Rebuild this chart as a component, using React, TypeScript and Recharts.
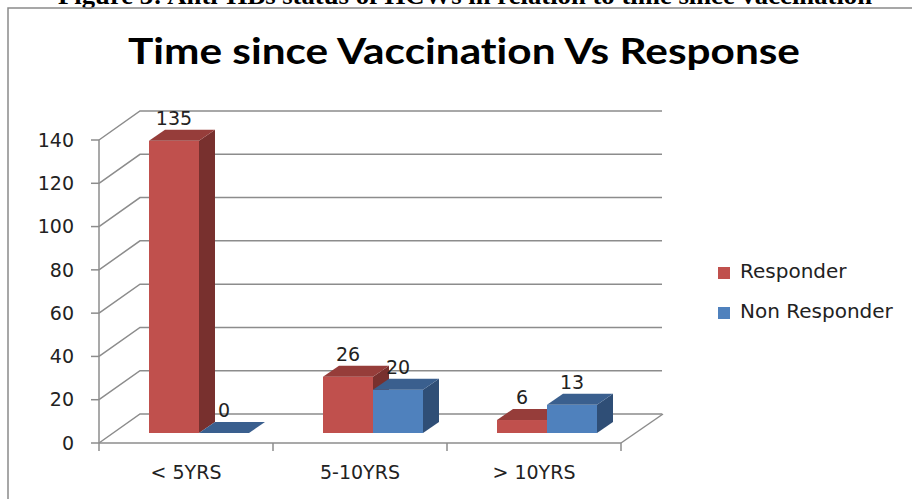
import React from "react";
import {
  BarChart,
  Bar,
  XAxis,
  YAxis,
  CartesianGrid,
  LabelList,
} from "recharts";

const categories = ["< 5YRS", "5-10YRS", "> 10YRS"];
const responder = [135, 26, 6];
const nonResponder = [0, 20, 13];
const yTicks = [0, 20, 40, 60, 80, 100, 120, 140];
const seriesNames = ["Responder", "Non Responder"];

const data = categories.map((name, i) => ({
  name,
  responder: responder[i],
  nonResponder: nonResponder[i],
}));

// fake 3d offsets
const WALL_X = 41;
const WALL_Y = -29;
const SHIFT_X = 13;
const SHIFT_Y = -10;
const DEPTH_X = 16;
const DEPTH_Y = -11;

const GRID = "#8c8c8c";
const FONT = "'DejaVu Sans', sans-serif";

const RED = { front: "#c0504d", top: "#963d3a", side: "#78302e" };
const BLUE = { front: "#4f81bd", top: "#3a5f8e", side: "#2f4e76" };

function gridLine(props: any) {
  const { x1, y1, x2, y2 } = props;
  const pts = `${x1},${y1} ${x1 + WALL_X},${y1 + WALL_Y} ${x2 + WALL_X},${y2 + WALL_Y}`;
  return (
    <polyline
      key={`g-${y1}`}
      points={pts}
      fill="none"
      stroke={GRID}
      strokeWidth={1.5}
    />
  );
}

function makeBar(c: { front: string; top: string; side: string }) {
  return function Bar3D(props: any) {
    const { x = 0, y = 0, width = 0, height = 0 } = props;
    const X = x + SHIFT_X;
    const Y = y + SHIFT_Y;
    const w = width;
    const h = Math.max(height, 0);
    const top = `${X},${Y} ${X + DEPTH_X},${Y + DEPTH_Y} ${X + w + DEPTH_X},${Y + DEPTH_Y} ${X + w},${Y}`;
    const side = `${X + w},${Y} ${X + w + DEPTH_X},${Y + DEPTH_Y} ${X + w + DEPTH_X},${Y + h + DEPTH_Y} ${X + w},${Y + h}`;
    return (
      <g>
        {h > 0 && <rect x={X} y={Y} width={w} height={h} fill={c.front} />}
        {h > 0 && <polygon points={side} fill={c.side} />}
        <polygon points={top} fill={c.top} />
      </g>
    );
  };
}

function ValueLabel(props: any) {
  const { x = 0, y = 0, width = 0, value } = props;
  return (
    <text
      x={x + SHIFT_X + width / 2}
      y={y + SHIFT_Y + DEPTH_Y - 5}
      textAnchor="middle"
      fill="#222"
      fontFamily={FONT}
      fontSize={19}
    >
      {value}
    </text>
  );
}

function CategoryTick(props: any) {
  const { x, y, payload, index } = props;
  const off = payload?.offset || 87;
  const last = index === categories.length - 1;
  return (
    <g>
      <line x1={x - off} y1={y} x2={x - off} y2={y + 8} stroke={GRID} strokeWidth={1.5} />
      {last && (
        <>
          <line x1={x + off} y1={y} x2={x + off} y2={y + 8} stroke={GRID} strokeWidth={1.5} />
          <line
            x1={x + off}
            y1={y}
            x2={x + off + WALL_X + 1}
            y2={y + WALL_Y}
            stroke={GRID}
            strokeWidth={1.5}
          />
        </>
      )}
      <text x={x} y={y + 36} textAnchor="middle" fill="#222" fontFamily={FONT} fontSize={19}>
        {payload.value}
      </text>
    </g>
  );
}

export default function App() {
  const colors = [RED.front, BLUE.front];
  return (
    <div style={{ position: "absolute", left: 0, top: 0, width: 912, height: 499, overflow: "hidden", background: "#fff" }}>
      <svg width={912} height={499} style={{ position: "absolute", left: 0, top: 0 }}>
        <text
          x={58}
          y={4}
          fontFamily="'Liberation Serif', serif"
          fontWeight="bold"
          fontSize={26}
          textLength={814}
          lengthAdjust="spacingAndGlyphs"
          fill="#000"
        >
          Figure 3: Anti-HBs status of HCWs in relation to time since vaccination
        </text>
        <polyline points="8,499 8,8 912,8" fill="none" stroke="#8a8a8a" strokeWidth={1.5} />
        <text
          x={128}
          y={64}
          fontFamily="Lato, sans-serif"
          fontWeight="bold"
          fontSize={36}
          textLength={672}
          lengthAdjust="spacingAndGlyphs"
          style={{ fontVariantLigatures: "none" }}
          fill="#000"
        >
          Time since Vaccination Vs Response
        </text>
        {seriesNames.map((label, i) => (
          <g key={label}>
            <rect x={718} y={267 + i * 40} width={12} height={12} fill={colors[i]} />
            <text x={740} y={278 + i * 40} fill="#222" fontFamily={FONT} fontSize={20}>
              {label}
            </text>
          </g>
        ))}
      </svg>
      <div style={{ position: "absolute", left: 0, top: 0 }}>
        <BarChart
          width={912}
          height={499}
          data={data}
          margin={{ top: 140, right: 291, bottom: 0, left: 0 }}
          barGap={0}
          barSize={50}
        >
          <CartesianGrid vertical={false} horizontal={gridLine} />
          <XAxis
            dataKey="name"
            height={56}
            tickSize={0}
            tickMargin={0}
            axisLine={{ stroke: GRID, strokeWidth: 1.5 }}
            tickLine={false}
            tick={<CategoryTick />}
            interval={0}
          />
          <YAxis
            width={99}
            domain={[0, 140]}
            ticks={yTicks}
            tickSize={8}
            tickMargin={17}
            axisLine={{ stroke: GRID, strokeWidth: 1.5 }}
            tickLine={{ stroke: GRID, strokeWidth: 1.5 }}
            tick={{ fill: "#222", fontFamily: FONT, fontSize: 19 }}
          />
          <Bar dataKey="responder" name={seriesNames[0]} fill={RED.front} shape={makeBar(RED)} isAnimationActive={false}>
            <LabelList dataKey="responder" content={<ValueLabel />} />
          </Bar>
          <Bar dataKey="nonResponder" name={seriesNames[1]} fill={BLUE.front} shape={makeBar(BLUE)} isAnimationActive={false}>
            <LabelList dataKey="nonResponder" content={<ValueLabel />} />
          </Bar>
        </BarChart>
      </div>
    </div>
  );
}
